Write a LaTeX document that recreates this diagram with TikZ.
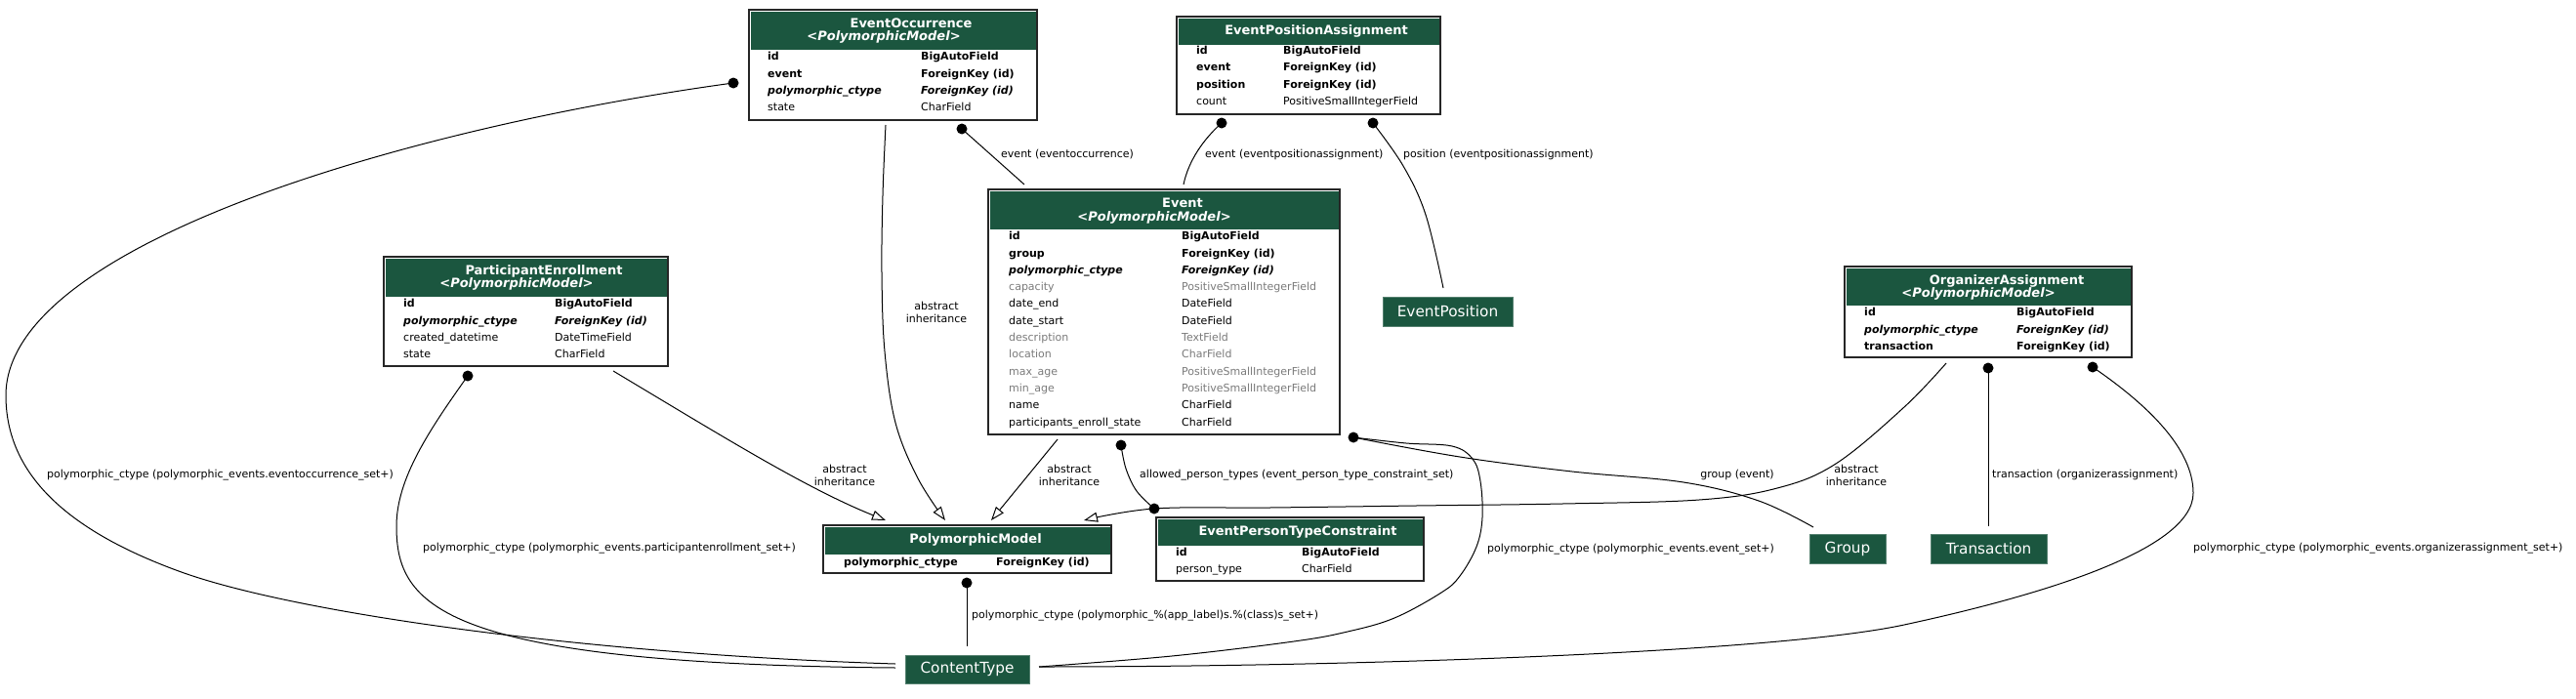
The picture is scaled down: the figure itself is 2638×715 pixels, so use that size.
\documentclass[tikz,border=0pt]{standalone}
\usepackage{fontspec}
\setmainfont{DejaVu Sans}
\usetikzlibrary{arrows.meta}
\definecolor{hdrgreen}{HTML}{1B563F}
\definecolor{fgray}{HTML}{7B7B7B}
\newcommand{\fsField}{\fontsize{11}{13}\selectfont}
\newcommand{\fsHead}{\fontsize{13}{15}\selectfont}
\newcommand{\fsEdge}{\fontsize{11}{13}\selectfont}
\newcommand{\fsExt}{\fontsize{15.3}{18}\selectfont}
\tikzset{
  border/.style={draw=black!85, line width=1.4pt},
  fld/.style={anchor=west, inner sep=0pt, text height=8pt, text depth=2.5pt, font=\fsField},
  fb/.style={fld, font=\fsField\bfseries},
  fbi/.style={fld, font=\fsField\bfseries\itshape},
  fn/.style={fld},
  fg/.style={fld, text=fgray},
  ttl/.style={inner sep=0pt, text=white, font=\fsHead\bfseries, text height=9.5pt, text depth=3pt},
  subttl/.style={ttl, font=\fsHead\bfseries\itshape},
  ext/.style={fill=hdrgreen, draw=hdrgreen!75!white, line width=0.8pt, text=white, font=\fsExt, inner sep=0pt},
  elab/.style={inner sep=0pt, font=\fsEdge, text height=8pt, text depth=2.5pt},
  inhlab/.style={inner sep=0pt, font=\fsEdge, align=center},
  conn/.style={line width=1pt, black},
  inh/.style={conn, -{Triangle[open, length=14pt, width=10pt, fill=white]}},
}
\newcommand{\entity}[6]{%
  \fill[white] (#2,#3) rectangle (#4,#5);
  \fill[hdrgreen] (#2+1.5,#3+1.5) rectangle (#4-1.5,#6);
  \draw[border] (#2,#3) rectangle (#4,#5);
  \node[inner sep=0pt, minimum width=#4-#2, minimum height=#5-#3, anchor=north west] (#1) at (#2,#3) {};
}
\newcommand{\frow}[7]{%
  \node[#5] (#1a) at (#2,#4) {#6};
  \node[#5] (#1b) at (#3,#4) {#7};
}
\begin{document}
\begin{tikzpicture}[x=1pt,y=-1pt]
\fill[white] (0,0) rectangle (2638,715);
\useasboundingbox (0,0) rectangle (2638,715);

% ---------- EventOccurrence ----------
\entity{eo}{767}{10}{1062}{123}{51}
\node[ttl] (eot) at (933,25) {EventOccurrence};
\node[subttl] (eos) at (905,38) {<PolymorphicModel>};
\frow{eo1}{786}{943}{59}{fb}{id}{BigAutoField}
\frow{eo2}{786}{943}{76.5}{fb}{event}{ForeignKey (id)}
\frow{eo3}{786}{943}{94}{fbi}{polymorphic\_ctype}{ForeignKey (id)}
\frow{eo4}{786}{943}{111}{fn}{state}{CharField}

% ---------- EventPositionAssignment ----------
\entity{epa}{1205}{17}{1475}{117}{46}
\node[ttl] (epat) at (1348,32) {EventPositionAssignment};
\frow{epa1}{1225}{1314}{52.5}{fb}{id}{BigAutoField}
\frow{epa2}{1225}{1314}{70}{fb}{event}{ForeignKey (id)}
\frow{epa3}{1225}{1314}{87.5}{fb}{position}{ForeignKey (id)}
\frow{epa4}{1225}{1314}{105}{fn}{count}{PositiveSmallIntegerField}

% ---------- Event ----------
\entity{ev}{1012}{194}{1372}{445}{235}
\node[ttl] (evt) at (1211,209) {Event};
\node[subttl] (evs) at (1182,223) {<PolymorphicModel>};
\frow{ev1}{1033}{1210}{243}{fb}{id}{BigAutoField}
\frow{ev2}{1033}{1210}{260.3}{fb}{group}{ForeignKey (id)}
\frow{ev3}{1033}{1210}{277.6}{fbi}{polymorphic\_ctype}{ForeignKey (id)}
\frow{ev4}{1033}{1210}{294.9}{fg}{capacity}{PositiveSmallIntegerField}
\frow{ev5}{1033}{1210}{312.2}{fn}{date\_end}{DateField}
\frow{ev6}{1033}{1210}{329.5}{fn}{date\_start}{DateField}
\frow{ev7}{1033}{1210}{346.8}{fg}{description}{TextField}
\frow{ev8}{1033}{1210}{364.1}{fg}{location}{CharField}
\frow{ev9}{1033}{1210}{381.4}{fg}{max\_age}{PositiveSmallIntegerField}
\frow{ev10}{1033}{1210}{398.7}{fg}{min\_age}{PositiveSmallIntegerField}
\frow{ev11}{1033}{1210}{416}{fn}{name}{CharField}
\frow{ev12}{1033}{1210}{433.3}{fn}{participants\_enroll\_state}{CharField}

% ---------- ParticipantEnrollment ----------
\entity{pe}{393}{263}{684}{375}{304}
\node[ttl] (pet) at (557,278) {ParticipantEnrollment};
\node[subttl] (pes) at (529,291) {<PolymorphicModel>};
\frow{pe1}{413}{568}{312}{fb}{id}{BigAutoField}
\frow{pe2}{413}{568}{329.3}{fbi}{polymorphic\_ctype}{ForeignKey (id)}
\frow{pe3}{413}{568}{346.6}{fn}{created\_datetime}{DateTimeField}
\frow{pe4}{413}{568}{364}{fn}{state}{CharField}

% ---------- OrganizerAssignment ----------
\entity{oa}{1889}{273}{2183}{366}{313}
\node[ttl] (oat) at (2055,288) {OrganizerAssignment};
\node[subttl] (oas) at (2026,301) {<PolymorphicModel>};
\frow{oa1}{1909}{2065}{321}{fb}{id}{BigAutoField}
\frow{oa2}{1909}{2065}{338.3}{fbi}{polymorphic\_ctype}{ForeignKey (id)}
\frow{oa3}{1909}{2065}{355.6}{fb}{transaction}{ForeignKey (id)}

% ---------- PolymorphicModel ----------
\entity{pm}{843}{538}{1138}{587}{568}
\node[ttl] (pmt) at (999,553) {PolymorphicModel};
\frow{pm1}{864}{1020}{576.5}{fb}{polymorphic\_ctype}{ForeignKey (id)}

% ---------- EventPersonTypeConstraint ----------
\entity{eptc}{1184}{530}{1458}{595}{559}
\node[ttl] (eptct) at (1329,545) {EventPersonTypeConstraint};
\frow{eptc1}{1204}{1333}{567}{fb}{id}{BigAutoField}
\frow{eptc2}{1204}{1333}{584}{fn}{person\_type}{CharField}

% ---------- external nodes ----------
\node[ext, minimum width=127pt, minimum height=29pt] (ct) at (990.5,685.5) {ContentType};
\node[ext, minimum width=133pt, minimum height=30pt] (evpos) at (1482.5,319) {EventPosition};
\node[ext, minimum width=78pt, minimum height=30pt] (grp) at (1892,562) {Group};
\node[ext, minimum width=119pt, minimum height=30pt] (trx) at (2036.5,562) {Transaction};

% ---------- connector end points ----------
\coordinate (dA) at (751,85);
\coordinate (dB) at (479,385);
\coordinate (dL) at (985,132);
\coordinate (dM) at (1251,126);
\coordinate (dN) at (1406,126);
\coordinate (dIJ) at (1386,448);
\coordinate (dK1) at (1148,456);
\coordinate (dK2) at (1182,521);
\coordinate (dG) at (2036,377);
\coordinate (dH) at (2143,376);
\coordinate (dO) at (990,597);
\coordinate (ctw1) at (917,680);
\coordinate (ctw2) at (917,684);
\coordinate (cte) at (1064,683);
\coordinate (ctn) at (990,662);
\coordinate (pmC) at (907,533);
\coordinate (pmD) at (968,533);
\coordinate (pmE) at (1015,533);
\coordinate (pmF) at (1110,533);
\coordinate (peC) at (628,380);
\coordinate (eoD) at (907,128);
\coordinate (evE) at (1083,450);
\coordinate (oaF) at (1993,372);
\coordinate (evL) at (1049,189);
\coordinate (evM) at (1212,189);
\coordinate (posN) at (1478,295);
\coordinate (trxG) at (2036,539);
\coordinate (grpI) at (1857,540);

% ---------- connectors ----------
\draw[conn] (dA) .. controls (420,130) and (6,250) .. (6,405)
  .. controls (6,480) and (60,540) .. (183,585)
  .. controls (300,628) and (600,670) .. (ctw1);
\draw[conn] (dB) .. controls (440,440) and (406,490) .. (406,539)
  .. controls (406,620) and (450,680) .. (ctw2);
\draw[inh] (peC) .. controls (740,447) and (825,500) .. (pmC);
\draw[inh] plot[smooth, tension=0.6] coordinates {(eoD) (904,200) (903,280) (906,360) (917,433) (940,490) (pmD)};
\draw[inh] (evE) -- (pmE);
\draw[inh] plot[smooth, tension=0.6] coordinates {(oaF) (1950,417) (1880,475) (1820,500) (1740,512) (1600,516) (1450,518) (1300,520) (dK2) (pmF)};
\draw[conn] (dG) -- (trxG);
\draw[conn] (dH) .. controls (2200,415) and (2246,460) .. (2246,505)
  .. controls (2246,565) and (2080,612) .. (1950,640)
  .. controls (1820,668) and (1400,683) .. (cte);
\draw[conn] plot[smooth, tension=0.6] coordinates {(dIJ) (1495,468) (1610,483) (1724,494) (1801,513) (grpI)};
\draw[conn] plot[smooth, tension=0.6] coordinates {(dIJ) (1440,454) (1487,457) (1508,470) (1516,493) (1518,530) (1512,560) (1495,590) (1476,607) (1428,633) (1380,647) (1325,657) (1200,672) (cte)};
\draw[conn] plot[smooth, tension=0.6] coordinates {(dK1) (1153,480) (1164,503) (dK2)};
\draw[conn] (dL) -- (evL);
\draw[conn] (dM) .. controls (1232,143) and (1217,165) .. (evM);
\draw[conn] plot[smooth, tension=0.6] coordinates {(dN) (1437,170) (1460,220) (posN)};
\draw[conn] (dO) -- (ctn);

% ---------- dots ----------
\foreach \d in {dA,dB,dL,dM,dN,dIJ,dK1,dK2,dG,dH,dO}
  \fill[black] (\d) circle (5.5pt);

% ---------- edge labels ----------
\node[elab, anchor=west] (lA) at (48,487) {polymorphic\_ctype (polymorphic\_events.eventoccurrence\_set+)};
\node[elab, anchor=west] (lB) at (433,562) {polymorphic\_ctype (polymorphic\_events.participantenrollment\_set+)};
\node[inhlab] (lC) at (865,486.5) {abstract\\inheritance};
\node[inhlab] (lD) at (959,319.5) {abstract\\inheritance};
\node[inhlab] (lE) at (1095,486.5) {abstract\\inheritance};
\node[inhlab] (lF) at (1901,486.5) {abstract\\inheritance};
\node[elab, anchor=west] (lG) at (2040,487) {transaction (organizerassignment)};
\node[elab, anchor=west] (lH) at (2246,562) {polymorphic\_ctype (polymorphic\_events.organizerassignment\_set+)};
\node[elab] (lI) at (1779,487) {group (event)};
\node[elab, anchor=west] (lJ) at (1523,563) {polymorphic\_ctype (polymorphic\_events.event\_set+)};
\node[elab, anchor=west] (lK) at (1167,487) {allowed\_person\_types (event\_person\_type\_constraint\_set)};
\node[elab, anchor=west] (lL) at (1025,159) {event (eventoccurrence)};
\node[elab, anchor=west] (lM) at (1234,159) {event (eventpositionassignment)};
\node[elab, anchor=west] (lN) at (1437,159) {position (eventpositionassignment)};
\node[elab, anchor=west] (lO) at (995,631) {polymorphic\_ctype (polymorphic\_\%(app\_label)s.\%(class)s\_set+)};
\end{tikzpicture}
\end{document}
